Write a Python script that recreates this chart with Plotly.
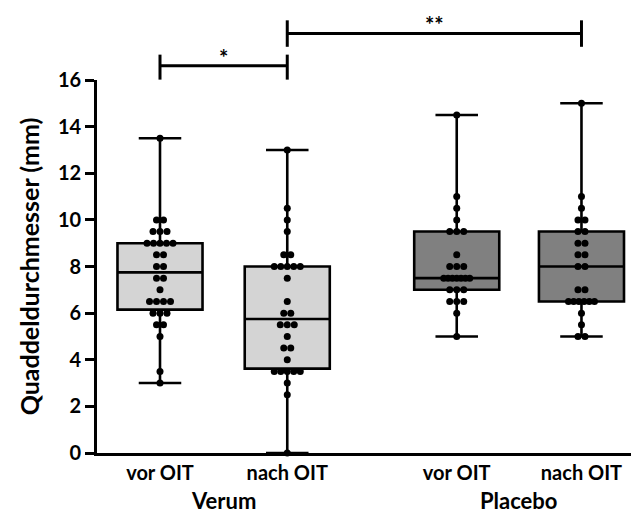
import plotly.graph_objects as go
from collections import Counter

# ---- data ----
categories = ["vor OIT", "nach OIT", "vor OIT", "nach OIT"]
groups = ["Verum", "Placebo"]
positions = [1.0, 2.01, 3.355, 4.345]

verum_vor = [13.5, 10, 10, 9.5, 9.5, 9.5, 9, 9, 9, 9, 9, 8.5, 8.5, 8, 8, 7.5, 7.5, 7,
             6.5, 6.5, 6.5, 6.5, 6, 6, 6, 5.5, 5.5, 5, 3.5, 3]
verum_nach = [13, 10.5, 10, 9.5, 8.5, 8.5, 8, 8, 8, 8, 8, 7.5, 6.5, 6, 6, 5.5, 5.5, 5.5,
              5, 4.5, 4.5, 4, 3.5, 3.5, 3.5, 3.5, 3.5, 3, 2.5, 0]
placebo_vor = [14.5, 11, 10.5, 10, 9.5, 9.5, 9.5, 8.5, 8, 8, 8, 7.5, 7.5, 7.5, 7.5, 7.5,
               7.5, 7.5, 7, 7, 7, 6.5, 6.5, 6.5, 6, 5]
placebo_nach = [15, 11, 10.5, 10, 10, 9.5, 9.5, 9, 9, 8.5, 8.5, 8, 8, 7, 7, 6.5, 6.5, 6.5,
                6.5, 6.5, 6.5, 6, 5.5, 5, 5]
series = [verum_vor, verum_nach, placebo_vor, placebo_nach]

# box statistics
q1 = [6.15, 3.62, 7.0, 6.5]
median = [7.75, 5.75, 7.5, 8.0]
q3 = [9.0, 8.0, 9.5, 9.5]
lowerfence = [3.0, 0.0, 5.0, 5.0]
upperfence = [13.5, 13.0, 14.5, 15.0]
box_colors = ["#d4d4d4", "#d4d4d4", "#808080", "#808080"]

sig_pairs = [(0, 1, "*"), (1, 3, "**")]

FONT = "Lato"

fig = go.Figure()

for i in range(4):
    fig.add_trace(go.Box(
        x=[positions[i]], q1=[q1[i]], median=[median[i]], q3=[q3[i]],
        lowerfence=[lowerfence[i]], upperfence=[upperfence[i]],
        fillcolor=box_colors[i], line=dict(color="black", width=2.6),
        width=0.675, whiskerwidth=0.5, boxpoints=False, showlegend=False,
        hoverinfo="skip",
    ))

# deterministic dot spreading (like a scatter dot plot)
unit_px = 126.0
for i, vals in enumerate(series):
    cnt = Counter(vals)
    xs, ys = [], []
    for v, k in cnt.items():
        sp_px = 7.0 if k <= 1 else min(7.0, 26.0 / (k - 1))
        sp = sp_px / unit_px
        for j in range(k):
            xs.append(positions[i] + (j - (k - 1) / 2) * sp)
            ys.append(v)
    fig.add_trace(go.Scatter(
        x=xs, y=ys, mode="markers", cliponaxis=False,
        marker=dict(color="black", size=7), showlegend=False, hoverinfo="skip",
    ))

shapes = []
annotations = []
# (line level, tick top, tick bottom, text centre) in paper units
levels = [(1.038, 1.068, 1.001, 1.060), (1.125, 1.160, 1.089, 1.148)]
for (a, b, txt), (yl, yt, yb, ytxt) in zip(sig_pairs, levels):
    xa, xb = positions[a], positions[b]
    shapes.append(dict(type="line", xref="x", yref="paper", x0=xa, x1=xb, y0=yl, y1=yl,
                       line=dict(color="black", width=3)))
    for xx in (xa, xb):
        shapes.append(dict(type="line", xref="x", yref="paper", x0=xx, x1=xx, y0=yb, y1=yt,
                           line=dict(color="black", width=3)))
    annotations.append(dict(x=(xa + xb) / 2, y=ytxt, xref="x", yref="paper", text=txt,
                            showarrow=False, yanchor="middle",
                            font=dict(family=FONT, size=22, color="black", weight="bold")))

for g, (a, b) in zip(groups, [(0, 1), (2, 3)]):
    annotations.append(dict(x=(positions[a] + positions[b]) / 2, y=-0.127, xref="x",
                            yref="paper", text=g, showarrow=False, yanchor="middle",
                            font=dict(family=FONT, size=22, color="black", weight="bold")))

fig.update_layout(
    width=631, height=508,
    margin=dict(l=89, r=7, t=72, b=63),
    plot_bgcolor="white", paper_bgcolor="white",
    shapes=shapes, annotations=annotations,
    font=dict(family=FONT, color="black"),
    xaxis=dict(
        range=[0.5, 0.5 + 535 / unit_px], showgrid=False, zeroline=False,
        showline=True, linecolor="black", linewidth=2.6,
        tickvals=positions, ticktext=categories, ticks="",
        tickfont=dict(family=FONT, size=20, color="black", weight="bold"),
    ),
    yaxis=dict(
        range=[0, 16], showgrid=False, zeroline=False,
        showline=True, linecolor="black", linewidth=2.6,
        tickvals=[0, 2, 4, 6, 8, 10, 12, 14, 16],
        ticks="outside", ticklen=9, tickwidth=2.6, tickcolor="black",
        tickfont=dict(family=FONT, size=20, color="black", weight="bold"),
        title=dict(text="Quaddeldurchmesser (mm)", standoff=12,
                   font=dict(family=FONT, size=25, color="black", weight="bold")),
    ),
)

fig.write_html("out.html")
